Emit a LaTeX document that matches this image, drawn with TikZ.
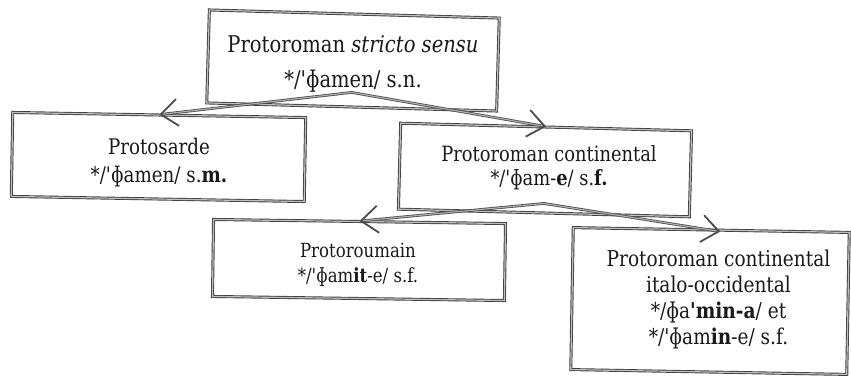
\documentclass[tikz,border=0pt]{standalone}
\usepackage{fontspec}
\setmainfont{DejaVu Serif}[FakeStretch=0.85,Ligatures=TeXOff]
\usetikzlibrary{arrows.meta,calc}
\begin{document}
\begin{tikzpicture}[x=1pt,y=-1pt,
  box/.style={draw=black!75, double=black!25, double distance=1.2pt, line width=0.9pt, inner sep=0pt},
  lbl/.style={align=center, text=black!90, inner sep=0pt},
  link/.style={draw=black!70, double=black!30, double distance=1.1pt, line width=0.8pt,
    {Straight Barb[length=17pt,width=27pt,line width=1.8pt]}-{Straight Barb[length=17pt,width=27pt,line width=1.8pt]}}]
\useasboundingbox (0,0) rectangle (851,385);
% boxes
\node[box, minimum width=290, minimum height=93, rotate=-1.6] (top) at (353,60.5) {};
\node[box, minimum width=293, minimum height=84, rotate=-1] (sarde) at (158.5,157) {};
\node[box, minimum width=291, minimum height=86, rotate=-1.5] (cont) at (545,170) {};
\node[box, minimum width=292, minimum height=77, rotate=-0.8] (roum) at (359,260) {};
\node[box, minimum width=276, minimum height=142, rotate=-1] (italo) at (710,301) {};
% texts
\node[lbl, font=\fontsize{23}{35}\selectfont] (topT) at (353,64)
  {Protoroman \textit{stricto sensu}\\{}*/'ɸamen/ s.n.};
\node[lbl, font=\fontsize{21.5}{28}\selectfont] (sardeT) at (159,163)
  {Protosarde\\{}*/'ɸamen/ s.\textbf{m.}};
\node[lbl, font=\fontsize{21}{24}\selectfont] (contT) at (549,168)
  {Protoroman continental\\{}*/'ɸam-\textbf{e}/ s.\textbf{f.}};
\node[lbl, font=\fontsize{19.5}{25}\selectfont] (roumT) at (358,264.5)
  {Protoroumain\\{}*/'ɸam\textbf{it}-e/ s.f.};
\node[lbl, font=\fontsize{21.8}{26}\selectfont] (italoT) at (718.5,299)
  {Protoroman continental\\italo-occidental\\{}*/ɸa\textbf{'min-a}/ et\\{}*/'ɸam\textbf{in}-e/ s.f.};
% connectors
\coordinate (a1) at ($(top.south)+(0,-15)$);
\coordinate (a2) at ($(cont.south)+(0,-10)$);
\coordinate (t4) at ($(italo.north)+(9,2)$);
\draw[link] (sarde.north) -- (a1) -- (cont.north);
\draw[link] (roum.north) -- (a2) -- (t4);
\end{tikzpicture}
\end{document}
